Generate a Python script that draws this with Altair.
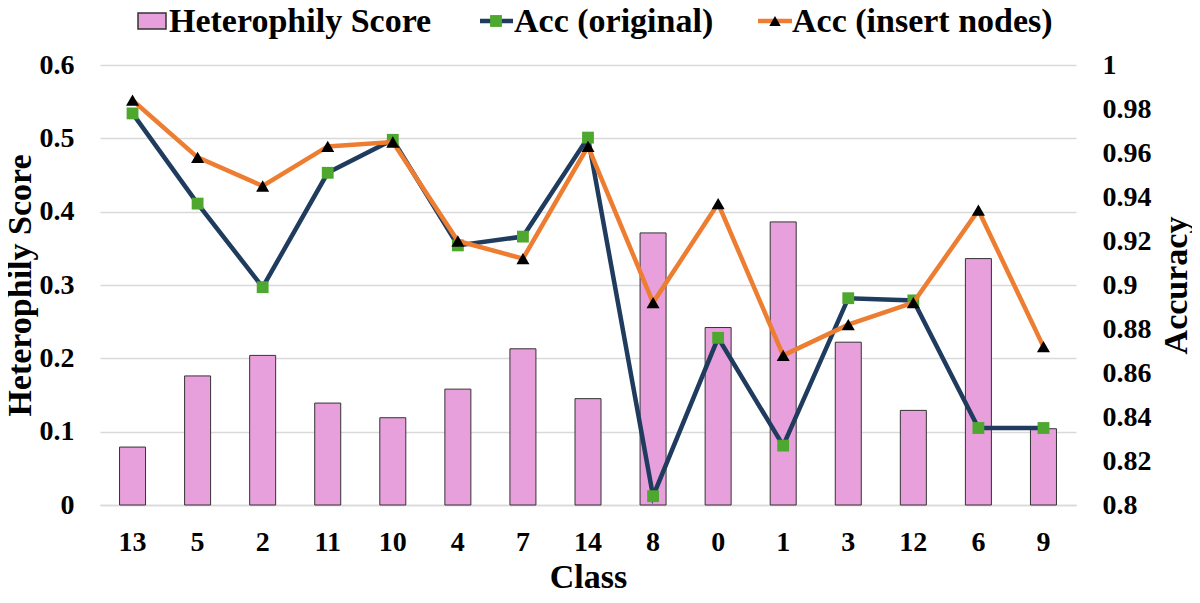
import altair as alt
import pandas as pd

classes = ["13", "5", "2", "11", "10", "4", "7", "14", "8", "0", "1", "3", "12", "6", "9"]
heterophily = [0.079, 0.176, 0.204, 0.139, 0.119, 0.158, 0.213, 0.145, 0.371, 0.242, 0.386, 0.222, 0.129, 0.336, 0.104]
acc_original = [0.978, 0.937, 0.899, 0.951, 0.966, 0.918, 0.922, 0.967, 0.804, 0.876, 0.827, 0.894, 0.893, 0.835, 0.835]
acc_insert = [0.984, 0.958, 0.945, 0.963, 0.965, 0.920, 0.912, 0.963, 0.892, 0.937, 0.868, 0.882, 0.892, 0.934, 0.872]

left_ticks = [0, 0.1, 0.2, 0.3, 0.4, 0.5, 0.6]
right_ticks = [0.8, 0.82, 0.84, 0.86, 0.88, 0.9, 0.92, 0.94, 0.96, 0.98, 1.0]

legend_labels = ["Heterophily Score", "Acc (original)", "Acc (insert nodes)"]

PINK = "#E8A0DC"
NAVY = "#1F3B5E"
GREEN = "#4EA72E"
ORANGE = "#ED7D31"
FONT = "Liberation Serif"

df = pd.DataFrame({"cls": classes, "het": heterophily, "orig": acc_original, "ins": acc_insert})
one = pd.DataFrame({"k": [0]})

xenc = alt.X("cls:N", sort=classes, title="Class",
             scale=alt.Scale(paddingInner=0, paddingOuter=0),
             axis=alt.Axis(labelAngle=0, labelPadding=23, titlePadding=4,
                           domain=True, domainColor="#d9d9d9", domainWidth=1.5, ticks=False))

bars = alt.Chart(df).mark_bar(size=26, color=PINK, stroke="#333333", strokeWidth=1).encode(
    x=xenc,
    y=alt.Y("het:Q", title="Heterophily Score",
            scale=alt.Scale(domain=[0, 0.6], nice=False, zero=True),
            axis=alt.Axis(orient="left", values=left_ticks, format="~g", grid=True,
                          gridColor="#d9d9d9", gridWidth=1.5, domain=False, ticks=False,
                          labelPadding=26, titlePadding=2)),
)

yacc = alt.Scale(domain=[0.8, 1.0], nice=False, zero=False)

line_orig = alt.Chart(df).mark_line(color=NAVY, strokeWidth=4.5).encode(
    x=xenc,
    y=alt.Y("orig:Q", title="Accuracy", scale=yacc,
            axis=alt.Axis(orient="right", values=right_ticks, format="~g", grid=False,
                          domain=False, ticks=False, labelPadding=26, titlePadding=42,
                          titleAngle=270)),
)
pts_orig = alt.Chart(df).mark_point(shape="square", filled=True, color=GREEN, size=140, opacity=1).encode(
    x=xenc, y=alt.Y("orig:Q", scale=yacc, axis=None))

line_ins = alt.Chart(df).mark_line(color=ORANGE, strokeWidth=4.5).encode(
    x=xenc, y=alt.Y("ins:Q", scale=yacc, axis=None))
pts_ins = alt.Chart(df).mark_point(shape="triangle-up", filled=True, color="black", size=170, opacity=1).encode(
    x=xenc, y=alt.Y("ins:Q", scale=yacc, axis=None))

# legend (drawn above the plot area)
LY = -44
TB = -33
txt = dict(font=FONT, fontWeight="bold", fontSize=34, align="left", baseline="alphabetic", color="black")
leg_box = alt.Chart(one).mark_rect(color=PINK, stroke="#333333", strokeWidth=1.5).encode(
    x=alt.value(38), x2=alt.value(66), y=alt.value(-52), y2=alt.value(-36))
leg_t1 = alt.Chart(one).mark_text(**txt).encode(x=alt.value(69), y=alt.value(TB), text=alt.value(legend_labels[0]))
leg_l2 = alt.Chart(one).mark_rule(color=NAVY, strokeWidth=4.5).encode(
    x=alt.value(380), x2=alt.value(413), y=alt.value(LY))
leg_p2 = alt.Chart(one).mark_point(shape="square", filled=True, color=GREEN, size=140, opacity=1).encode(
    x=alt.value(396), y=alt.value(LY))
leg_t2 = alt.Chart(one).mark_text(**txt).encode(x=alt.value(414), y=alt.value(TB), text=alt.value(legend_labels[1]))
leg_l3 = alt.Chart(one).mark_rule(color=ORANGE, strokeWidth=4.5).encode(
    x=alt.value(658), x2=alt.value(692), y=alt.value(LY))
leg_p3 = alt.Chart(one).mark_point(shape="triangle-up", filled=True, color="black", size=130, opacity=1).encode(
    x=alt.value(675), y=alt.value(LY))
leg_t3 = alt.Chart(one).mark_text(**txt).encode(x=alt.value(692), y=alt.value(TB), text=alt.value(legend_labels[2]))

chart = alt.layer(
    bars, line_orig, pts_orig, line_ins, pts_ins,
    leg_box, leg_t1, leg_l2, leg_p2, leg_t2, leg_l3, leg_p3, leg_t3,
).resolve_scale(y="independent").properties(
    width=976, height=440,
    autosize=alt.AutoSizeParams(type="none"),
    padding={"left": 92, "top": 57, "right": 116, "bottom": 90},
    background="white",
).configure_view(stroke=None).configure_axis(
    labelFont=FONT, labelFontWeight="bold", labelFontSize=28, labelColor="black",
    titleFont=FONT, titleFontWeight="bold", titleFontSize=34, titleColor="black",
)

chart.save("out.html", embed_options={"renderer": "svg", "actions": False})
